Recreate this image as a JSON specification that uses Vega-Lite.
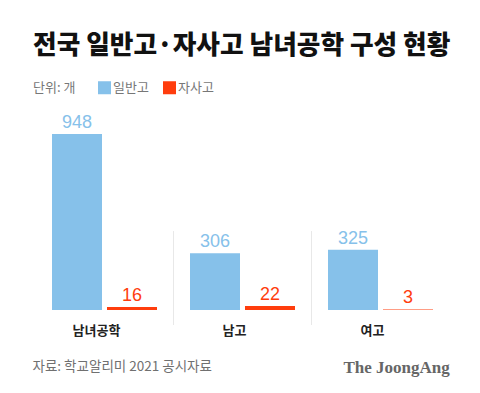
{
  "$schema": "https://vega.github.io/schema/vega-lite/v6.json",
  "width": 414,
  "height": 210,
  "autosize": {"type": "none"},
  "padding": {"left": 35.5, "top": 110, "right": 30.5, "bottom": 73},
  "background": "white",
  "config": {"view": {"stroke": null}},
  "title": {
    "text": "전국 일반고·자사고 남녀공학 구성 현황",
    "anchor": "start",
    "frame": "group",
    "font": "Noto Sans CJK KR",
    "fontSize": 25.7,
    "fontWeight": 900,
    "color": "#111111",
    "dx": -2.5,
    "offset": 21
  },
  "data": {
    "values": [
      {"group": "남녀공학", "type": "일반고", "value": 948},
      {"group": "남녀공학", "type": "자사고", "value": 16},
      {"group": "남고", "type": "일반고", "value": 306},
      {"group": "남고", "type": "자사고", "value": 22},
      {"group": "여고", "type": "일반고", "value": 325},
      {"group": "여고", "type": "자사고", "value": 3}
    ]
  },
  "layer": [
    {
      "data": {"values": [{"group": "남고"}, {"group": "여고"}]},
      "mark": {"type": "rule", "color": "#e8e8e8", "strokeWidth": 1},
      "encoding": {
        "x": {"field": "group", "type": "nominal", "bandPosition": 0, "sort": ["남녀공학", "남고", "여고"]},
        "y": {"datum": 425, "type": "quantitative"},
        "y2": {"datum": -81}
      }
    },
    {
      "mark": {"type": "bar"},
      "encoding": {
        "x": {
          "field": "group", "type": "nominal", "sort": ["남녀공학", "남고", "여고"],
          "scale": {"domain": ["남녀공학", "남고", "여고"], "paddingInner": 0, "paddingOuter": 0},
          "axis": {
            "title": "자료: 학교알리미 2021 공시자료",
            "titleAnchor": "start", "titleAlign": "left", "titleX": -3.5, "titleY": 46,
            "titleBaseline": "middle", "titleFont": "Noto Sans CJK KR", "titleFontSize": 13.5,
            "titleFontWeight": 400, "titleColor": "#707070",
            "labelAngle": 0, "labelAlign": "center", "labelBaseline": "top",
            "labelFont": "Noto Sans CJK KR", "labelFontSize": 13,
            "labelFontWeight": 700, "labelColor": "#222222", "labelOffset": -8, "labelPadding": 4,
            "ticks": false, "domain": false, "grid": false
          }
        },
        "xOffset": {"field": "type", "type": "nominal", "scale": {"domain": ["일반고", "자사고"], "paddingInner": 0.0909, "paddingOuter": 0.3}},
        "y": {
          "field": "value", "type": "quantitative",
          "scale": {"domain": [-54, 1077], "nice": false, "zero": false},
          "axis": {
            "title": "The JoongAng", "titleAngle": 0, "titleX": 307.5, "titleY": 257,
            "titleAlign": "left", "titleBaseline": "middle", "titleFont": "Liberation Serif",
            "titleFontSize": 17, "titleFontWeight": 700, "titleColor": "#666666",
            "labels": false, "ticks": false, "domain": false, "grid": false
          }
        },
        "y2": {"datum": 0},
        "color": {
          "field": "type", "type": "nominal",
          "scale": {"domain": ["일반고", "자사고"], "range": ["#86C1EA", "#FF3D0D"]},
          "legend": {
            "orient": "none", "legendX": -2.5, "legendY": -29, "direction": "horizontal",
            "title": "단위: 개", "titleOrient": "left", "titleFont": "Noto Sans CJK KR",
            "titleFontSize": 13, "titleFontWeight": 400, "titleColor": "#777777", "titlePadding": 22,
            "labelFont": "Noto Sans CJK KR", "labelFontSize": 13, "labelColor": "#777777",
            "labelOffset": 2, "columnPadding": 14, "symbolType": "square", "symbolSize": 169,
            "symbolStrokeWidth": 0, "symbolOpacity": 1
          }
        }
      }
    },
    {
      "mark": {"type": "text", "baseline": "alphabetic", "dy": -6, "font": "Liberation Sans", "fontSize": 18},
      "encoding": {
        "x": {"field": "group", "type": "nominal", "sort": ["남녀공학", "남고", "여고"]},
        "xOffset": {"field": "type", "type": "nominal"},
        "y": {"field": "value", "type": "quantitative"},
        "text": {"field": "value", "type": "quantitative"},
        "color": {"field": "type", "type": "nominal", "legend": null}
      }
    }
  ]
}
